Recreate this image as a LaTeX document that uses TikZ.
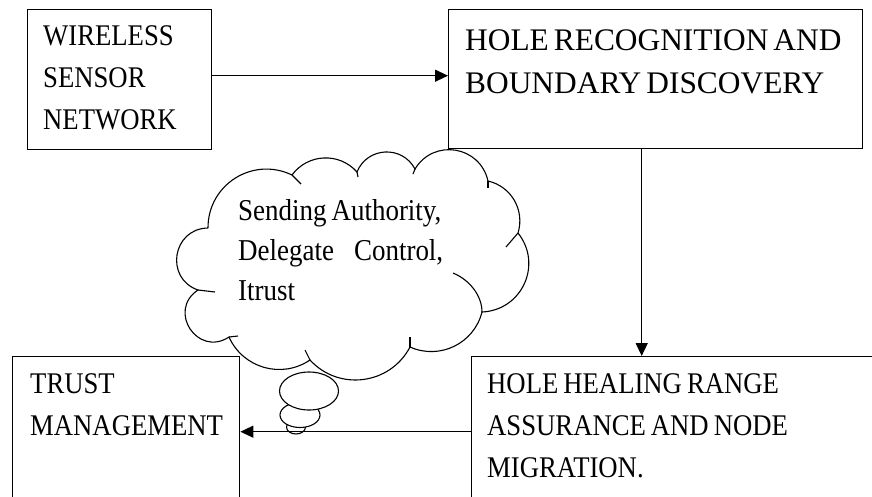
\documentclass[tikz,border=0pt]{standalone}
\usepackage{fontspec}
\setmainfont{Liberation Serif}
\newfontfamily\narrowfont{Liberation Serif}[FakeStretch=0.89]
\usetikzlibrary{arrows.meta,calc}

\begin{document}
\begin{tikzpicture}[x=1pt,y=-1pt]
	\tikzstyle{block}=[draw, line width=1.4pt, rectangle, anchor=north west, inner sep=0pt]
	\tikzstyle{words}=[anchor=base west, inner sep=0pt, text width=400pt, font=\narrowfont\fontsize{30}{42}\selectfont, execute at begin node={\spaceskip=5pt\relax}]
	\tikzstyle{arrow}=[line width=1.4pt, -{Triangle[length=13pt,width=12pt]}]
	\tikzstyle{puff}=[line width=1.1pt]
	\tikzstyle{bubble}=[line width=1.1pt, fill=white]
	\useasboundingbox (0,0) rectangle (872,496);
	\node[block, minimum width=184pt, minimum height=140pt] (wsn) at (27,9) {};
	\node[block, minimum width=414pt, minimum height=139pt] (hr) at (448,9) {};
	\node[block, minimum width=227pt, minimum height=144pt] (tm) at (12,356) {};
	\node[block, minimum width=405pt, minimum height=144pt] (hh) at (471,356) {};
	\node[words] (wsntext) at (43,45) {WIRELESS\\SENSOR\\NETWORK};
	\node[words, font=\rmfamily\fontsize{31.4}{43}\selectfont] (hrtext) at (465,50) {HOLE RECOGNITION AND\\BOUNDARY DISCOVERY};
	\node[words] (tmtext) at (30,393) {TRUST\\MANAGEMENT};
	\node[words] (hhtext) at (487,393) {HOLE HEALING RANGE\\ASSURANCE AND NODE\\MIGRATION.};
	\coordinate (c1) at (208,228);
	\coordinate (c2) at (292,175);
	\coordinate (c3) at (357,172);
	\coordinate (c4) at (415,169);
	\coordinate (c5) at (488,181);
	\coordinate (c6) at (518,233);
	\coordinate (c7) at (482,312);
	\coordinate (c8) at (410,347);
	\coordinate (c9) at (310,360);
	\coordinate (c10) at (229,337);
	\coordinate (c11) at (198,290);
	\draw[puff] (c1) to[bend left=58, looseness=1.12] (c2) to[bend left=51, looseness=1.05] (c3)
		to[bend left=65, looseness=1.2] (c4) to[bend left=68, looseness=1.25] (c5)
		to[bend left=47, looseness=1.02] (c6) to[bend left=63, looseness=1.18] (c7)
		to[bend left=50, looseness=1.04] (c8) to[bend left=55, looseness=1.08] (c9)
		to[bend left=50, looseness=1.04] (c10) to[bend left=90, looseness=1.7] (c11)
		to[bend left=80, looseness=1.45] (c1);
	\draw[puff] (c2) -- ++(9,9);
	\draw[puff] (c3) -- ++(1,5);
	\draw[puff] (c4) -- ++(-2,5);
	\draw[puff] (c5) -- ++(0,7);
	\draw[puff] (c6) -- ++(-12,14);
	\draw[puff] (c7) .. controls (482,296) and (470,280) .. (453,273);
	\draw[puff] (c8) -- ++(0,-10);
	\draw[puff] (c9) -- ++(-5,-10);
	\draw[puff] (c10) -- ++(9,-1);
	\draw[puff] (c11) -- ++(17,2);
	\node[words, text width=240pt, font=\narrowfont\fontsize{30.3}{40}\selectfont] (cloudtext) at (238,220) {Sending Authority,\\\makebox[205pt][s]{Delegate\hfill Control,}\\Itrust};
	\draw[bubble] (296,427) ellipse [x radius=9.5, y radius=7];
	\draw[bubble] (300,415) ellipse [x radius=20, y radius=12.5];
	\draw[bubble] (309,391) ellipse [x radius=29.5, y radius=19];
	\coordinate (wsnout) at ([yshift=4pt]wsn.east);
	\coordinate (hrout) at ([xshift=-14pt]hr.south);
	\coordinate (hhout) at ([yshift=-3pt]hh.west);
	\draw[arrow] (wsnout) -- (wsnout -| hr.west);
	\draw[arrow] (hrout) -- (hrout |- hh.north);
	\draw[arrow] (hhout) -- (hhout -| tm.east);
\end{tikzpicture}
\end{document}
